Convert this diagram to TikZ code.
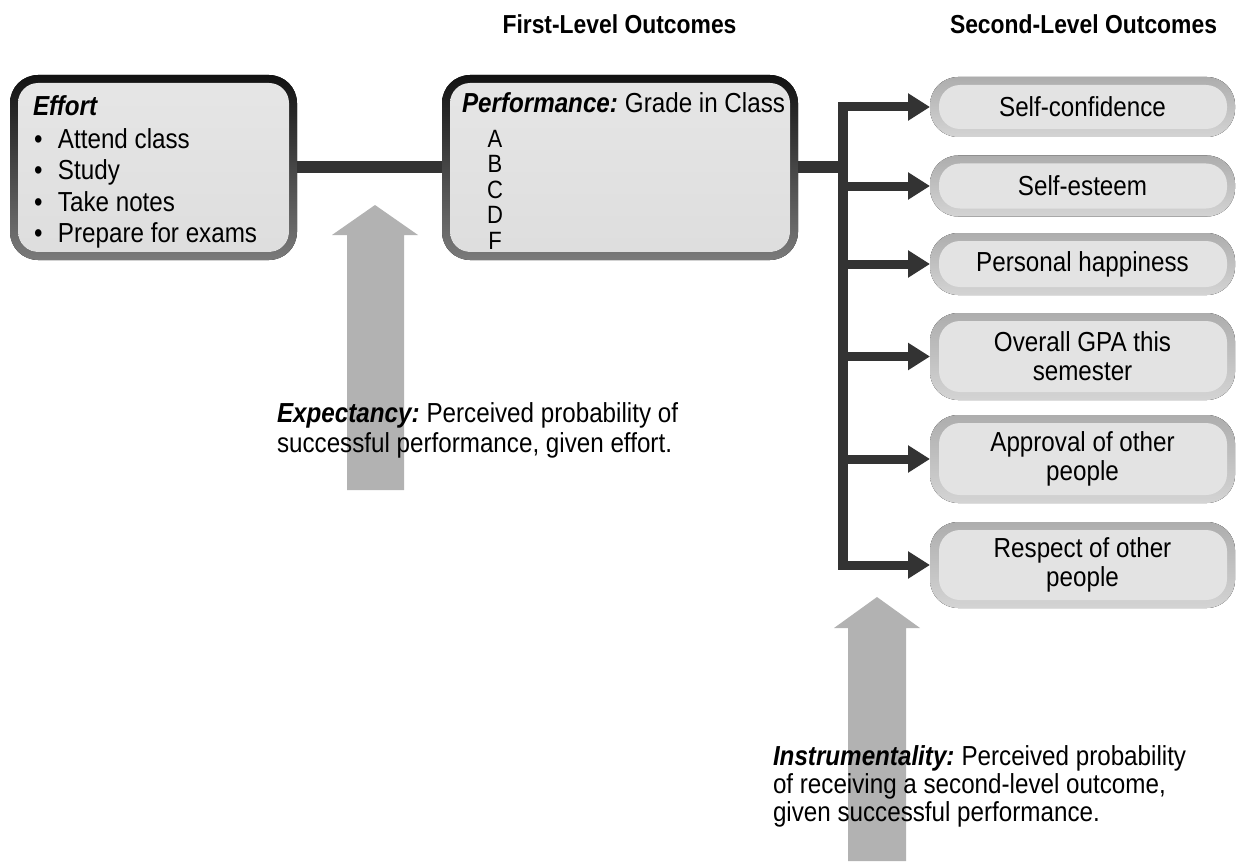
\documentclass[tikz,border=0pt]{standalone}
\usepackage{fontspec}
\setmainfont[FakeStretch=0.88]{Liberation Sans}
\usetikzlibrary{arrows.meta}
\pgfdeclarelayer{bg}
\pgfsetlayers{bg,main}
\newcommand\bulitem{\makebox[25pt][l]{\hspace{1pt}•}}
\begin{document}
\begin{tikzpicture}[x=1pt,y=-1pt,
  every node/.style={inner sep=0pt, outer sep=0pt, font=\fontsize{27.5}{31}\selectfont},
  lbox/.style={minimum height=185, anchor=north west},
  rbox/.style={minimum width=305, align=center, font=\fontsize{27.5}{29}\selectfont},
  lring/.style={rounded corners=28pt, top color=black!93, bottom color=black!52},
  lfill/.style={rounded corners=20pt, top color=black!10, bottom color=black!13},
  rring/.style={rounded corners=28pt, top color=black!32, bottom color=black!17},
  rfill/.style={rounded corners=21pt, fill=black!11},
  bigarrow/.style={fill=black!30},
  conn/.style={draw=black!80, line width=12pt},
  arr/.style={draw=black!80, line width=9pt, -{Triangle[length=22pt,width=26pt]}},
  head/.style={anchor=base, font=\bfseries\fontsize{26}{30}\selectfont}]
\useasboundingbox (0,0) rectangle (1238,861);

% headers
\node[head] (h1) at (619.5,34) {First-Level Outcomes};
\node[head] (h2) at (1083.5,34) {Second-Level Outcomes};

% boxes
\node[lbox, minimum width=287] (effort) at (10,75) {};
\node[lbox, minimum width=356] (perf) at (442,75) {};
\node[rbox, minimum height=60] (s1) at (1082.5,107) {Self-confidence};
\node[rbox, minimum height=61] (s2) at (1082.5,186) {Self-esteem};
\node[rbox, minimum height=62] (s3) at (1082.5,264) {Personal happiness};
\node[rbox, minimum height=87] (s4) at (1082.5,356.5) {Overall GPA this\\semester};
\node[rbox, minimum height=88] (s5) at (1082.5,459) {Approval of other\\people};
\node[rbox, minimum height=86] (s6) at (1082.5,565) {Respect of other\\people};

\begin{pgfonlayer}{bg}
  \fill[bigarrow] (347,490) -- (347,235) -- (332,235) -- (375,205) -- (418,235) -- (404,235) -- (404,490) -- cycle;
  \fill[bigarrow] (848,861) -- (848,628) -- (834,628) -- (877,597) -- (920,628) -- (906,628) -- (906,861) -- cycle;
  \foreach \n in {effort,perf}{
    \fill[lring] (\n.south west) rectangle (\n.north east);
    \fill[lfill] ([shift={(8,-8)}]\n.south west) rectangle ([shift={(-8,8)}]\n.north east);
  }
  \foreach \n in {s1,s2,s3,s4,s5,s6}{
    \fill[rring] (\n.south west) rectangle (\n.north east);
    \fill[rfill] ([shift={(9,-8)}]\n.south west) rectangle ([shift={(-8,8)}]\n.north east);
  }
\end{pgfonlayer}

% box texts
\node[anchor=north west, align=left, font=\fontsize{27.5}{31.5}\selectfont] (efftext) at (33,96)
  {\textbf{\textit{Effort}}\\[1pt]\bulitem Attend class\\\bulitem Study\\\bulitem Take notes\\\bulitem Prepare for exams};
\node[anchor=north west] (perftext) at (462,93) {\textbf{\textit{Performance:}}\hspace{-2pt} Grade in Class};
\begin{scope}
  \clip[rounded corners=20pt] ([shift={(8,-8)}]perf.south west) rectangle ([shift={(-8,8)}]perf.north east);
  \node[anchor=north, align=center, font=\fontsize{25}{25.5}\selectfont] (grades) at (495,130) {A\\B\\C\\D\\F};
\end{scope}

% connectors
\coordinate (j) at (843,167.5);
\draw[conn] (effort) -- (perf);
\draw[conn] (perf.east) -- (j);
\draw[conn, line width=10pt, line cap=rect] (j |- s1.west) -- (j |- s6.west);
\foreach \s in {s1,s2,s3,s4,s5,s6}{
  \draw[arr] (j |- \s.west) -- (\s.west);
}

% annotations
\node[anchor=north west, align=left, font=\fontsize{27.5}{30}\selectfont] (expect) at (277,403)
  {\textbf{\textit{Expectancy:}}\hspace{-2pt} Perceived probability of\\successful performance, given effort.};
\node[anchor=north west, align=left, font=\fontsize{27.5}{28}\selectfont] (instr) at (773,746)
  {\textbf{\textit{Instrumentality:}}\hspace{-2pt} Perceived probability\\of receiving a second-level outcome,\\given successful performance.};
\end{tikzpicture}
\end{document}
